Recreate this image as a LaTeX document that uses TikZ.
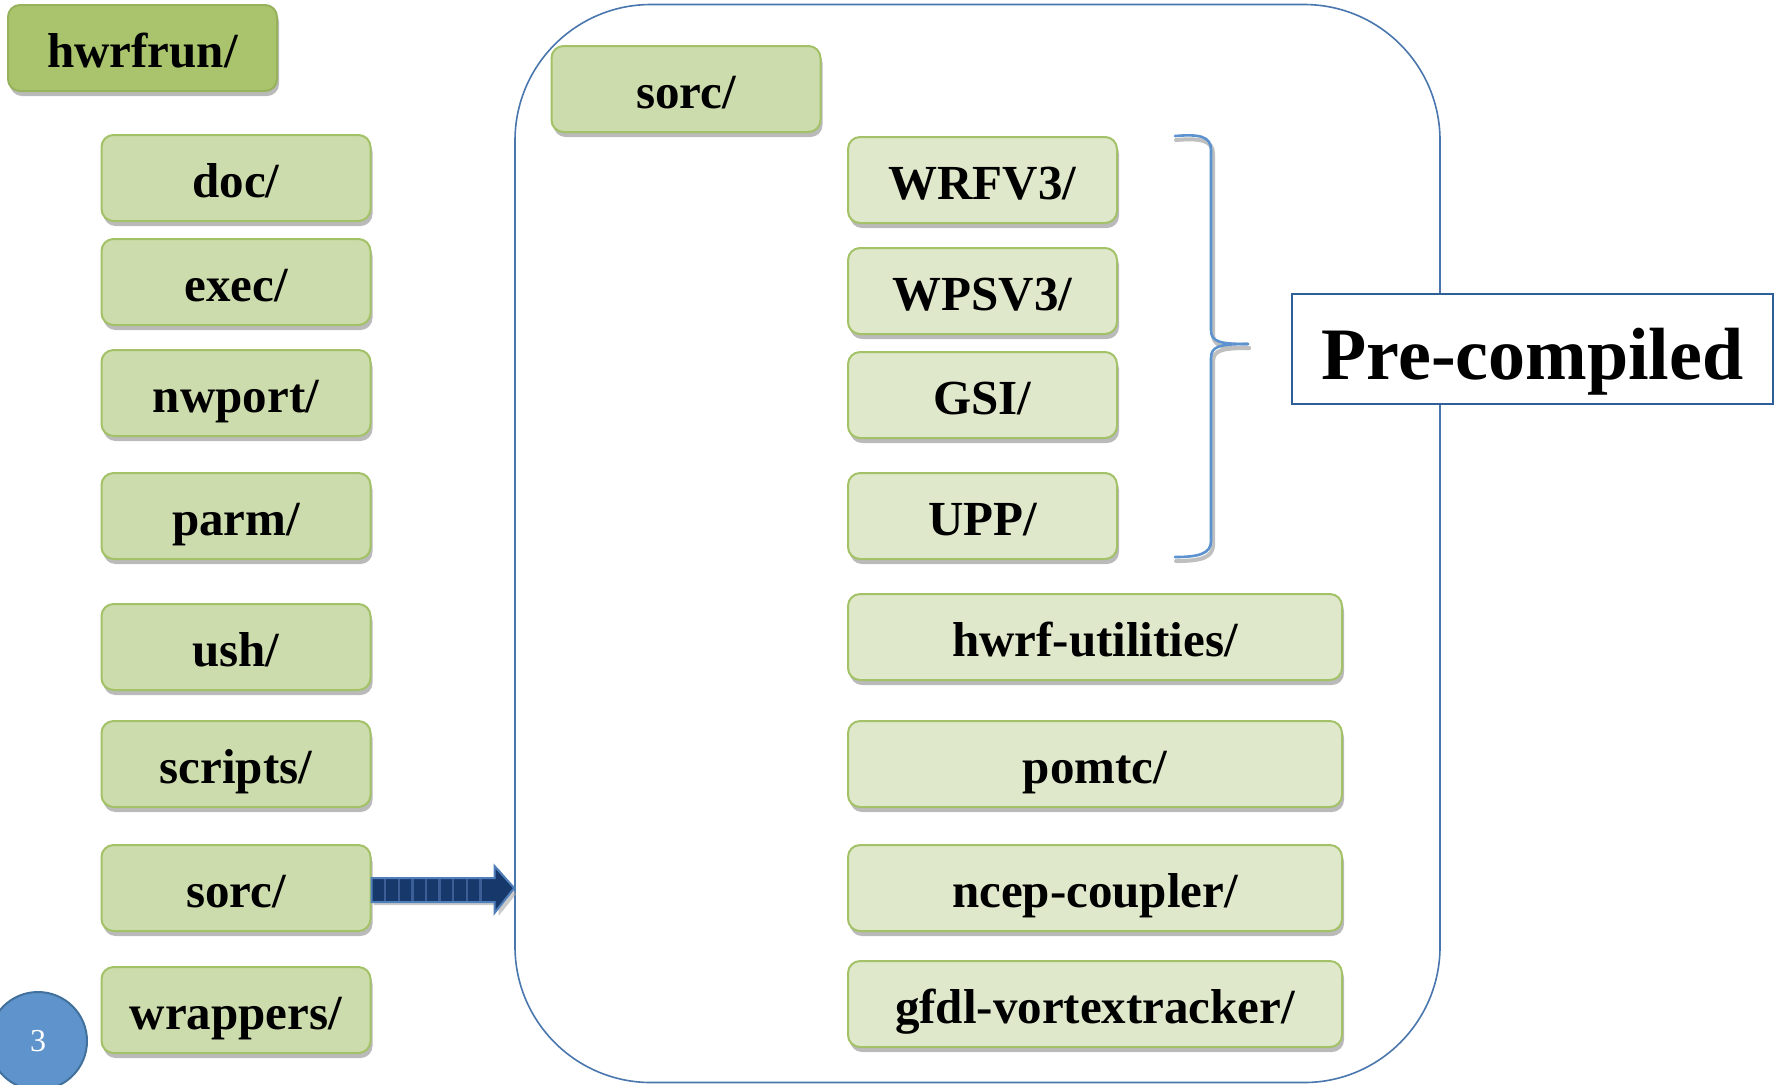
\documentclass[tikz,border=0pt]{standalone}
\usepackage{fontspec}
\setmainfont{Liberation Serif}
\usetikzlibrary{shadows,calc}
\definecolor{gdark}{HTML}{A9C46C}
\definecolor{gdarkb}{HTML}{97B25C}
\definecolor{gmid}{HTML}{CDDCAC}
\definecolor{gmidb}{HTML}{A3C166}
\definecolor{glight}{HTML}{DFE8CA}
\definecolor{bigblue}{HTML}{4A76AE}
\definecolor{braceblue}{HTML}{5B92CF}
\definecolor{pcblue}{HTML}{2F5F98}
\definecolor{circfill}{HTML}{5F93CB}
\definecolor{circline}{HTML}{41719C}
\definecolor{arrfill}{HTML}{17386A}
\definecolor{arrline}{HTML}{4F7FBA}
\definecolor{arrstripe}{HTML}{3A5E95}
\tikzset{
  dirbox/.style={draw=gmidb, line width=1pt, rounded corners=6pt, fill=gmid,
    minimum width=134.5pt, minimum height=43pt, inner sep=0pt,
    text height=24pt, text depth=4.4pt,
    font=\fontsize{24.5}{28}\selectfont\bfseries,
    drop shadow={shadow xshift=1pt, shadow yshift=-2.5pt, opacity=0.45, fill=black!60}},
  topbox/.style={dirbox, fill=gdark, draw=gdarkb},
  litebox/.style={dirbox, fill=glight},
  widebox/.style={litebox, minimum width=247pt},
}
\begin{document}
\begin{tikzpicture}[x=0.5pt,y=-0.5pt]
\useasboundingbox (0,0) rectangle (1775,1084);
% big container
\node[draw=bigblue, line width=0.8pt, rounded corners=68pt, minimum width=462.5pt, minimum height=539pt, inner sep=0pt] (bigbox) at (977.5,543.5) {};
% left column
\node[topbox] (hwrfrun) at (142.5,48) {hwrfrun/};
\node[dirbox] (doc) at (236,178) {doc/};
\node[dirbox] (exec) at (236,282) {exec/};
\node[dirbox] (nwport) at (236,393) {nwport/};
\node[dirbox] (parm) at (236,516) {parm/};
\node[dirbox] (ush) at (236,647) {ush/};
\node[dirbox] (scripts) at (236,764) {scripts/};
\node[dirbox] (sorc) at (236,888) {sorc/};
\node[dirbox] (wrappers) at (236,1010) {wrappers/};
% inner
\node[dirbox] (isorc) at (686,89) {sorc/};
\node[litebox] (wrf) at (982.5,180) {WRFV3/};
\node[litebox] (wps) at (982.5,291) {WPSV3/};
\node[litebox] (gsi) at (982.5,395) {GSI/};
\node[litebox] (upp) at (982.5,516) {UPP/};
\node[widebox] (util) at (1095,637) {hwrf-utilities/};
\node[widebox] (pom) at (1095,764) {pomtc/};
\node[widebox] (ncep) at (1095,888) {ncep-coupler/};
\node[widebox] (gfdl) at (1095,1004) {gfdl-vortextracker/};
% brace
\draw[black!25, line width=2pt, line cap=round] (1176,140) .. controls (1200,138) and (1213,140) .. (1213,154) -- (1213,334) .. controls (1213,346) and (1222,348) .. (1249,348);
\draw[black!25, line width=2pt, line cap=round] (1249,348) .. controls (1222,348) and (1213,350) .. (1213,362) -- (1213,545) .. controls (1213,558) and (1200,561) .. (1176,561);
\draw[braceblue, line width=1.3pt, line cap=round] (1175,136) .. controls (1199,134) and (1211,136) .. (1211,150) -- (1211,330) .. controls (1211,342) and (1220,344) .. (1248,344) coordinate (tip);
\draw[braceblue, line width=1.3pt, line cap=round] (tip) .. controls (1220,344) and (1211,346) .. (1211,358) -- (1211,541) .. controls (1211,554) and (1198,557) .. (1175,557);
% pre-compiled
\node[draw=pcblue, line width=1pt, fill=white, minimum width=240.5pt, minimum height=55pt, inner sep=0pt, text height=36pt, text depth=6pt, font=\fontsize{37}{40}\selectfont\bfseries] (pre) at (1532.5,349) {Pre-compiled};
% arrow
\coordinate (as) at (sorc.east);
\coordinate (at) at (bigbox.west |- as);
\fill[black!35, opacity=0.6] ($(as)+(2,-8)$) -- ++(125,0) -- ++(0,-12) -- ($(at)+(2,6)$) -- ($(as)+(127,28)$) -- ++(0,-11) -- ($(as)+(2,17)$) -- cycle;
\draw[arrline, fill=arrfill, line width=1pt, line join=miter] ($(as)+(0,-10)$) -- ++(123,0) -- ++(0,-12) -- (at) -- ($(as)+(123,25)$) -- ++(0,-11) -- ($(as)+(0,14)$) -- cycle;
\foreach \k in {1,...,8}{
  \draw[arrstripe, line width=1.2pt] ($(as)+(\k*13.6,-9)$) -- ($(as)+(\k*13.6,13)$);
}
% page number
\node[circle, draw=circline, line width=1pt, fill=circfill, minimum size=49pt, inner sep=0pt, text=white, font=\fontsize{16}{18}\selectfont] (page) at (38,1041) {3};
\end{tikzpicture}
\end{document}
